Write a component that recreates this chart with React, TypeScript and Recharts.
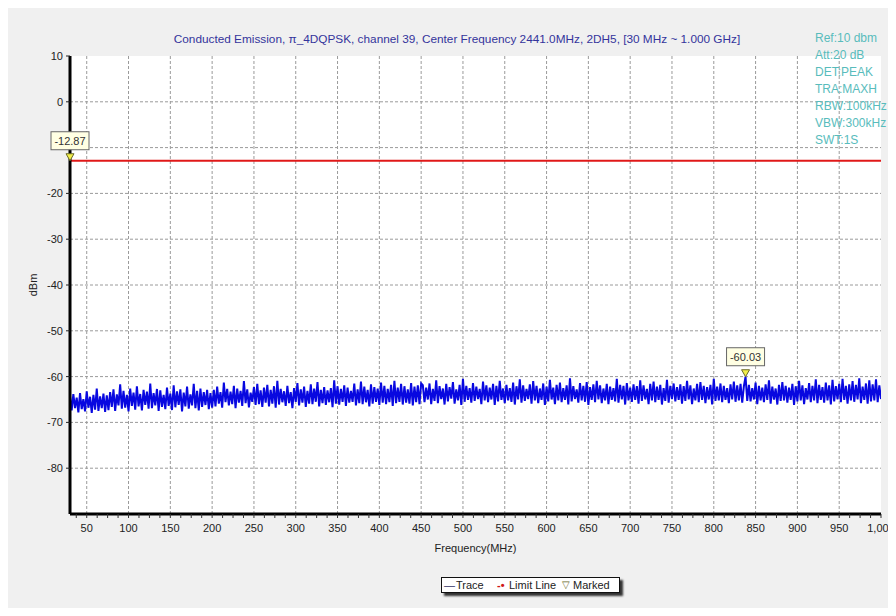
import React from "react";
import {
  LineChart,
  Line,
  XAxis,
  YAxis,
  CartesianGrid,
  ReferenceDot,
} from "recharts";

// ---- data ----------------------------------------------------------------
const sweepStartMHz = 30;
const sweepStopMHz = 1000;

const freqTicks = [50, 100, 150, 200, 250, 300, 350, 400, 450, 500, 550, 600, 650, 700, 750, 800, 850, 900, 950, 1000];
const levelTicks = [-80, -70, -60, -50, -40, -30, -20, -10, 0, 10];

// trace samples (dBm), evenly spread over the sweep
const trace30to75 = [
  -64.2, -67.4, -63.8, -66.9, -64.6, -67.8, -63.6, -67.1, -64.9, -67.6,
  -63.2, -66.8, -64.4, -67.9, -64.0, -67.2, -62.6, -67.5, -64.3, -66.9,
  -63.7, -67.7, -64.1,
];
const trace75to200 = [
  -67.3, -63.4, -66.6, -62.8, -67.5, -63.9, -66.3, -61.7, -67.0, -63.1,
  -66.8, -64.0, -67.6, -62.6, -66.4, -63.5, -67.2, -62.1, -66.5, -63.8,
  -67.4, -62.9, -66.2, -63.3, -67.0, -61.5, -66.9, -63.6, -66.3, -62.7,
  -67.5, -63.0, -66.6, -64.0, -67.1, -62.4, -66.4, -63.7, -67.3, -61.9,
  -66.7, -63.2, -66.2, -62.8, -67.6, -63.5, -66.5, -62.2, -67.0, -63.9,
  -66.3, -61.6, -66.9, -63.1, -67.4, -62.6, -66.6, -63.4, -66.2, -62.9,
  -67.1, -63.6, -66.8,
];
const trace200to450 = [
  -62.9, -66.5, -62.2, -65.9, -63.4, -66.8, -61.3, -65.6, -62.7, -66.3,
  -63.3, -66.0, -62.0, -66.9, -62.6, -65.7, -63.1, -66.4, -61.0, -65.8,
  -62.8, -66.7, -63.5, -65.5, -62.3, -66.2, -61.6, -66.0, -63.0, -66.6,
  -62.4, -65.7, -61.8, -66.5, -62.9, -65.9, -62.1, -66.8, -60.9, -66.1,
  -62.7, -65.6, -63.2, -66.4, -62.0, -65.8, -63.4, -66.9, -62.5, -65.5,
  -61.4, -66.3, -62.8, -65.7, -62.2, -66.6, -63.1, -65.9, -61.7, -66.0,
  -62.6, -65.5, -61.2, -66.5, -62.9, -65.8, -62.3, -66.2, -63.0, -65.6,
  -62.5, -66.7, -60.8, -65.9, -62.1, -66.1, -62.7, -65.5, -61.9, -66.4,
  -62.4, -65.7, -63.1, -65.5, -61.5, -66.3, -62.8, -65.8, -61.1, -66.0,
  -62.2, -65.6, -62.9, -66.5, -61.7, -65.9, -62.3, -65.5, -62.6, -66.2,
  -61.3, -65.7, -62.0, -66.0, -62.7, -65.6, -61.8, -66.4, -60.9, -65.8,
  -62.4, -65.5, -61.6, -66.1, -62.1, -65.7, -62.8, -65.9, -61.4, -66.3,
  -62.2, -65.6, -61.9, -66.0, -61.5,
];
const trace450to1000 = [
  -61.9, -65.6, -62.4, -65.0, -61.5, -66.0, -62.7, -65.3, -60.8, -65.8,
  -62.1, -64.9, -62.6, -66.1, -61.6, -65.4, -62.3, -64.8, -61.2, -65.9,
  -62.8, -65.2, -61.8, -66.2, -60.5, -65.5, -62.0, -65.1, -62.5, -65.7,
  -61.4, -65.3, -62.2, -64.9, -62.7, -66.0, -61.1, -65.2, -61.9, -65.6,
  -62.4, -65.0, -61.6, -66.2, -62.0, -65.4, -60.9, -65.1, -62.6, -65.8,
  -61.8, -65.2, -62.5, -65.5, -61.3, -66.1, -62.1, -65.0, -60.6, -65.7,
  -61.9, -65.3, -62.7, -64.9, -61.7, -65.9, -61.0, -65.2, -62.0, -65.8,
  -62.6, -65.1, -61.5, -66.2, -62.2, -65.4, -60.7, -65.0, -62.4, -66.0,
  -61.8, -65.2, -61.3, -65.6, -62.5, -65.1, -61.9, -66.1, -60.4, -65.4,
  -62.1, -64.9, -62.8, -65.7, -61.4, -65.2, -62.0, -65.5, -61.2, -66.2,
  -62.3, -65.1, -61.7, -65.6, -60.9, -65.0, -61.9, -65.8, -62.6, -65.2,
  -61.6, -66.0, -62.2, -65.1, -62.5, -65.4, -60.5, -65.7, -61.8, -65.0,
  -62.0, -66.1, -61.4, -65.2, -62.4, -65.5, -61.7, -65.1, -62.1, -65.9,
  -60.8, -65.3, -61.9, -65.0, -62.7, -66.0, -61.6, -65.2, -61.1, -65.6,
  -62.2, -65.1, -61.8, -66.1, -62.5, -65.3, -60.7, -65.7, -62.0, -64.9,
  -61.5, -65.4, -62.3, -65.1, -61.7, -65.9, -62.1, -65.3, -60.9, -65.0,
  -61.9, -66.0, -62.6, -65.2, -61.6, -65.6, -61.2, -65.1, -62.0, -65.8,
  -62.3, -65.0, -61.8, -66.1, -60.5, -65.3, -62.2, -65.2, -61.5, -65.6,
  -62.0, -65.1, -62.5, -65.8, -61.7, -65.0, -61.1, -65.5, -61.9, -65.2,
  -61.6, -65.7, -62.1, -60.03, -65.3, -61.8, -65.4, -62.5, -65.0, -61.3,
  -66.0, -62.0, -65.2, -62.4, -65.6, -61.7, -65.1, -60.8, -65.9, -62.2,
  -65.0, -62.6, -66.1, -61.8, -65.3, -61.2, -65.2, -62.0, -65.7, -62.4,
  -65.1, -61.6, -66.2, -62.1, -65.4, -60.9, -65.2, -61.9, -66.0, -62.5,
  -65.0, -61.4, -65.6, -62.0, -65.2, -60.6, -65.8, -61.8, -65.1, -62.3,
  -65.7, -61.3, -65.2, -61.9, -66.1, -60.7, -65.4, -62.1, -65.0, -61.6,
  -65.6, -60.5, -65.1, -62.0, -65.9, -61.7, -65.2, -61.0, -65.5, -61.8,
  -65.0, -60.4, -65.8, -62.2, -65.1, -61.5, -65.9, -60.8, -65.4, -61.7,
  -65.2, -60.6, -65.6, -61.9, -64.9,
];

const limitDbm = -12.87;

const markerFreqs = [30, 838];
const markerLevels = [-12.87, -60.03];
const markerLabels = ["-12.87", "-60.03"];

const infoLines = ["Ref:10 dbm", "Att:20 dB", "DET:PEAK", "TRA:MAXH", "RBW:100kHz", "VBW:300kHz", "SWT:1S"];

const titleText =
  "Conducted Emission, \u03c0_4DQPSK, channel 39, Center Frequency 2441.0MHz, 2DH5, [30 MHz ~ 1.000 GHz]";

// ---- derived series ------------------------------------------------------
const traceDbm = [...trace30to75, ...trace75to200, ...trace200to450, ...trace450to1000];
const traceData = traceDbm.map((v, i) => ({
  f: sweepStartMHz + (i * (sweepStopMHz - sweepStartMHz)) / (traceDbm.length - 1),
  trace: v,
}));
const limitData = [
  { f: sweepStartMHz, limit: limitDbm },
  { f: sweepStopMHz, limit: limitDbm },
];
// 4 small divisions per labelled step
const allFreqTicks: number[] = [];
freqTicks.forEach((t) => {
  [37.5, 25, 12.5, 0].forEach((d) => {
    if (t - d > sweepStartMHz) allFreqTicks.push(t - d);
  });
});
const gridFreqs = freqTicks.filter((t) => t < sweepStopMHz);
const gridLevels = levelTicks.filter((t) => t < 10);

const FONT = '"Liberation Sans", Arial, sans-serif';
const GRID = "#9a9a9a";

function MarkerShape(label: string) {
  return (props: any) => {
    const { cx, cy } = props;
    if (cx == null || cy == null) return <g />;
    return (
      <g>
        <polygon
          points={`${cx - 4},${cy - 7} ${cx + 4},${cy - 7} ${cx},${cy}`}
          fill="#f2ee4a"
          stroke="#6a6a2a"
          strokeWidth={1}
        />
        <rect x={cx - 19} y={cy - 29} width={38} height={18} fill="#ffffe3" stroke="#666" />
        <text x={cx} y={cy - 16} textAnchor="middle" fontSize={11} fontFamily={FONT} fill="#333">
          {label}
        </text>
      </g>
    );
  };
}

function FreqTick(props: any) {
  const { x, y, payload } = props;
  if (payload.value % 50 !== 0) return <g />;
  return (
    <text x={x} y={y} dy="0.71em" textAnchor="middle" fontSize={11} fontFamily={FONT} fill="#222">
      {Number(payload.value).toLocaleString("en-US")}
    </text>
  );
}

export default function App() {
  return (
    <div style={{ position: "relative", width: 888, height: 600, background: "#f0f0f0", fontFamily: FONT }}>
      <LineChart width={888} height={600} margin={{ top: 48, right: 15, bottom: 54, left: 22 }}>
        <CartesianGrid
          fill="#ffffff"
          stroke={GRID}
          strokeDasharray="3 2"
          verticalValues={gridFreqs}
          horizontalValues={gridLevels}
        />

        <XAxis
          dataKey="f"
          type="number"
          domain={[sweepStartMHz, sweepStopMHz]}
          allowDataOverflow
          ticks={allFreqTicks}
          interval={0}
          height={40}
          tickSize={4}
          tickMargin={6}
          axisLine={{ stroke: "#000", strokeWidth: 3 }}
          tickLine={{ stroke: "#333" }}
          tick={<FreqTick />}
          label={{ value: "Frequency(MHz)", position: "insideBottom", offset: 2, fontSize: 11, fill: "#222", fontFamily: FONT }}
        />
        <YAxis
          type="number"
          domain={[-90, 10]}
          allowDataOverflow
          ticks={levelTicks}
          interval={0}
          width={40}
          tickSize={4}
          tickMargin={3}
          axisLine={{ stroke: "#000", strokeWidth: 3 }}
          tickLine={{ stroke: "#222" }}
          tick={{ fontSize: 11, fill: "#222", fontFamily: FONT }}
          tickFormatter={(v) => (v === -10 ? "" : String(v))}
          label={{
            value: "dBm",
            angle: -90,
            position: "insideLeft",
            offset: 3,
            fontSize: 11,
            fill: "#222",
            fontFamily: FONT,
            style: { textAnchor: "middle" },
          }}
        />

        <Line
          data={traceData}
          dataKey="trace"
          type="linear"
          dot={false}
          stroke="#0808e0"
          strokeWidth={2}
          strokeLinejoin="miter"
          isAnimationActive={false}
        />
        <Line
          data={limitData}
          dataKey="limit"
          type="linear"
          dot={false}
          stroke="#e01818"
          strokeWidth={2}
          isAnimationActive={false}
        />

        {markerFreqs.map((f, i) => (
          <ReferenceDot
            key={i}
            x={f}
            y={markerLevels[i]}
            ifOverflow="visible"
            shape={MarkerShape(markerLabels[i])}
          />
        ))}
      </LineChart>

      <div
        style={{
          position: "absolute",
          left: 449,
          top: 24,
          transform: "translateX(-50%)",
          whiteSpace: "nowrap",
          fontSize: 11.8,
          lineHeight: "14px",
          color: "#34349c",
        }}
      >
        {titleText}
      </div>

      <div style={{ position: "absolute", left: 807, top: 22, fontSize: 12, lineHeight: "17px", color: "#58bcbc" }}>
        {infoLines.map((s) => (
          <div key={s}>{s}</div>
        ))}
      </div>

      <div
        style={{
          position: "absolute",
          left: 433,
          top: 569,
          width: 177,
          height: 14,
          background: "#fff",
          border: "1px solid #111",
          boxShadow: "3px 3px 2px #333",
          fontSize: 11,
          lineHeight: "14px",
          color: "#222",
          whiteSpace: "nowrap",
        }}
      >
        <span style={{ position: "absolute", left: 2, color: "#333366" }}>—</span>
        <span style={{ position: "absolute", left: 14 }}>Trace</span>
        <span style={{ position: "absolute", left: 55, color: "#d01818", fontWeight: "bold" }}>-•</span>
        <span style={{ position: "absolute", left: 67 }}>Limit Line</span>
        <span style={{ position: "absolute", left: 120, color: "#6a6a2a", fontSize: 10 }}>▽</span>
        <span style={{ position: "absolute", left: 131 }}>Marked</span>
      </div>
    </div>
  );
}
